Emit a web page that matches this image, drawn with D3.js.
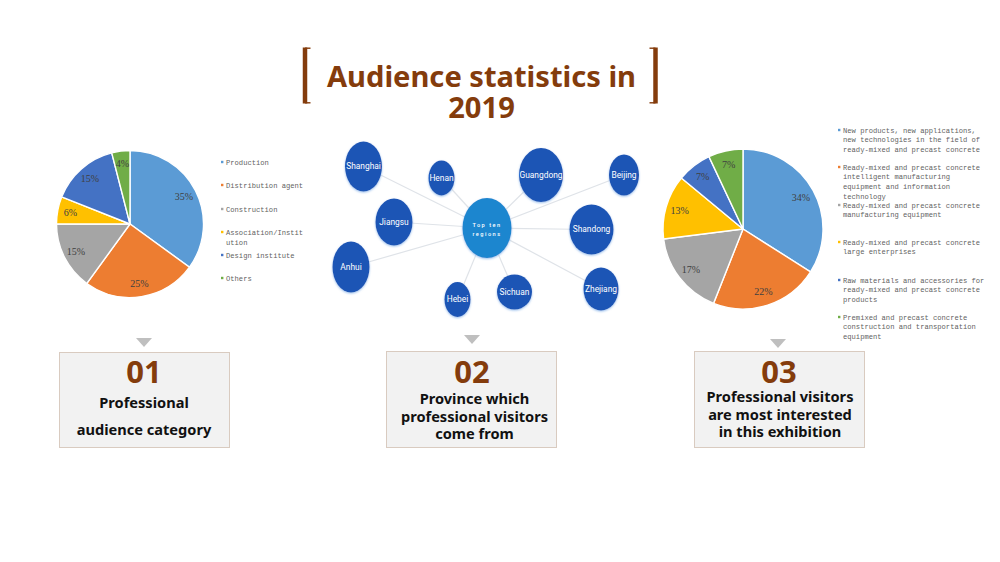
<!DOCTYPE html>
<html>
<head>
<meta charset="utf-8">
<script src="https://cdn.jsdelivr.net/npm/d3@7"></script>
<style>
  html, body { margin: 0; padding: 0; background: #fff; }
  svg { display: block; }
  .legend text { font-family: "Liberation Mono", monospace; font-size: 7.15px; fill: #5f5f5f; }
  .pct { font-family: "Liberation Serif", serif; font-size: 10px; fill: #404040; text-anchor: middle; }
  .heading { font-family: "Noto Sans", "Open Sans", sans-serif; font-weight: 700; text-anchor: middle; }
  .bubble-label { font-family: Roboto, sans-serif; fill: #fff; text-anchor: middle; }
</style>
</head>
<body>
<div id="chart"></div>
<script>

var titleLines = ["Audience statistics in", "2019"];
var sliceColors = ["#5b9bd5", "#ed7d31", "#a5a5a5", "#ffc000", "#4472c4", "#70ad47"];

var audienceLabels = [["Production"], ["Distribution agent"], ["Construction"], ["Association/Instit", "ution"], ["Design institute"], ["Others"]];
var audienceValues = [35, 25, 15, 6, 15, 4];

var interestLabels = [
  ["New products, new applications,", "new technologies in the field of", "ready-mixed and precast concrete"],
  ["Ready-mixed and precast concrete", "intelligent manufacturing", "equipment and information", "technology"],
  ["Ready-mixed and precast concrete", "manufacturing equipment"],
  ["Ready-mixed and precast concrete", "large enterprises"],
  ["Raw materials and accessories for", "ready-mixed and precast concrete", "products"],
  ["Premixed and precast concrete", "construction and transportation", "equipment"]
];
var interestValues = [34, 22, 17, 13, 7, 7];

var hubLabel = ["Top ten", "regions"];
var regions = ["Shanghai", "Henan", "Guangdong", "Beijing", "Shandong", "Zhejiang", "Sichuan", "Hebei", "Anhui", "Jiangsu"];

var panelNumbers = ["01", "02", "03"];
var panelCaptions = [
  ["Professional", "audience category"],
  ["Province which", "professional visitors", "come from"],
  ["Professional visitors", "are most interested", "in this exhibition"]
];

// layout only, the diagram has no values behind it
var W = 1000, H = 562;
var brown = "#843c0c";
var hub = {x: 487, y: 228, rx: 24.5, ry: 30};
var regionLayout = {
  Shanghai:  {x: 363.5, y: 166.5, rx: 18.5, ry: 25},
  Henan:     {x: 441.5, y: 178, rx: 13, ry: 17.5},
  Guangdong: {x: 541, y: 175, rx: 22, ry: 27},
  Beijing:   {x: 624, y: 175, rx: 15, ry: 20.5},
  Shandong:  {x: 591.5, y: 229.5, rx: 22, ry: 25},
  Zhejiang:  {x: 601, y: 289, rx: 17.5, ry: 21.5},
  Sichuan:   {x: 514.5, y: 292, rx: 17.5, ry: 17.5},
  Hebei:     {x: 457.5, y: 299.5, rx: 13, ry: 17.5},
  Anhui:     {x: 351, y: 267, rx: 18.5, ry: 25.5},
  Jiangsu:   {x: 394, y: 222, rx: 18.5, ry: 23.5}
};
var panelLayout = [
  {x: 59, y: 352, w: 170, h: 95, triY: 338, triX: 144, numX: 144, textX: 144, numY: 383, lines: [408, 435]},
  {x: 386, y: 351, w: 170, h: 96, triY: 335, triX: 472, numX: 472, textX: 474.5, numY: 383, lines: [404, 422, 439]},
  {x: 694, y: 351, w: 170, h: 96, triY: 339, triX: 778, numX: 779, textX: 780, numY: 383, lines: [402, 420, 437]}
];

var svg = d3.select("#chart").append("svg").attr("width", W).attr("height", H);

var glow = svg.append("defs").append("filter").attr("id", "glow")
  .attr("x", "-30%").attr("y", "-30%").attr("width", "160%").attr("height", "160%");
glow.append("feDropShadow").attr("dx", 0).attr("dy", 1)
  .attr("stdDeviation", 1.3).attr("flood-color", "#8fb8ea").attr("flood-opacity", 0.9);

function drawTitle() {
  var g = svg.append("g");

  g.selectAll("text")
    .data(titleLines)
    .enter().append("text")
    .attr("class", "heading")
    .attr("x", 481.5)
    .attr("y", function(d, i) { return 86.5 + i * 31.5; })
    .attr("font-size", 29.1)
    .attr("fill", brown)
    .text(function(d) { return d; });

  // square brackets: heavy upright with thin ticks
  [[305, 310.5], [655.5, 649.5]].forEach(function(b) {
    g.append("line")
      .attr("x1", b[0]).attr("x2", b[0])
      .attr("y1", 47.5).attr("y2", 103.5)
      .attr("stroke", brown)
      .attr("stroke-width", 4.5);
    g.selectAll(null)
      .data([48.2, 102.8])
      .enter().append("line")
      .attr("x1", b[0]).attr("x2", b[1])
      .attr("y1", function(d) { return d; })
      .attr("y2", function(d) { return d; })
      .attr("stroke", brown)
      .attr("stroke-width", 1.4);
  });
}

function drawPie(cx, cy, radius, values) {
  var g = svg.append("g").attr("transform", "translate(" + cx + "," + cy + ")");

  var pie = d3.pie().sort(null)(values);
  var arc = d3.arc().innerRadius(0).outerRadius(radius);
  var labelArc = d3.arc().innerRadius(radius * 0.825).outerRadius(radius * 0.825);

  g.selectAll("path")
    .data(pie)
    .enter().append("path")
    .attr("d", arc)
    .attr("fill", function(d, i) { return sliceColors[i]; })
    .attr("stroke", "#fff")
    .attr("stroke-width", 1.4);

  g.selectAll("text")
    .data(pie)
    .enter().append("text")
    .attr("class", "pct")
    .attr("transform", function(d) { return "translate(" + labelArc.centroid(d) + ")"; })
    .attr("dy", "0.35em")
    .text(function(d) { return d.data + "%"; });
}

function drawLegend(labels, x, rows, lineH) {
  var g = svg.append("g").attr("class", "legend");

  labels.forEach(function(lines, i) {
    g.append("rect")
      .attr("x", x - 5)
      .attr("y", rows[i] - 1.2)
      .attr("width", 2.4)
      .attr("height", 2.4)
      .attr("fill", sliceColors[i]);

    g.selectAll(null)
      .data(lines)
      .enter().append("text")
      .attr("x", x)
      .attr("y", function(d, j) { return rows[i] + 2.5 + j * lineH; })
      .text(function(d) { return d; });
  });
}

function drawBubbles() {
  var g = svg.append("g");

  g.selectAll("line")
    .data(regions)
    .enter().append("line")
    .attr("x1", hub.x)
    .attr("y1", hub.y)
    .attr("x2", function(d) { return regionLayout[d].x; })
    .attr("y2", function(d) { return regionLayout[d].y; })
    .attr("stroke", "#dfe3e8")
    .attr("stroke-width", 1.2);

  g.selectAll("ellipse.region")
    .data(regions)
    .enter().append("ellipse")
    .attr("class", "region")
    .attr("cx", function(d) { return regionLayout[d].x; })
    .attr("cy", function(d) { return regionLayout[d].y; })
    .attr("rx", function(d) { return regionLayout[d].rx; })
    .attr("ry", function(d) { return regionLayout[d].ry; })
    .attr("fill", "#1b55b5")
    .attr("filter", "url(#glow)");

  g.append("ellipse")
    .attr("cx", hub.x).attr("cy", hub.y)
    .attr("rx", hub.rx).attr("ry", hub.ry)
    .attr("fill", "#1c86cf")
    .attr("filter", "url(#glow)");

  g.selectAll("text.region")
    .data(regions)
    .enter().append("text")
    .attr("class", "bubble-label region")
    .attr("x", function(d) { return regionLayout[d].x; })
    .attr("y", function(d) { return regionLayout[d].y; })
    .attr("dy", "0.3em")
    .attr("font-size", 8.4)
    .text(function(d) { return d; });

  g.selectAll("text.hub")
    .data(hubLabel)
    .enter().append("text")
    .attr("class", "bubble-label hub")
    .attr("x", hub.x)
    .attr("y", function(d, i) { return hub.y - 1 + i * 9; })
    .attr("font-size", 5.6)
    .attr("font-weight", 500)
    .attr("letter-spacing", 1.5)
    .text(function(d) { return d; });
}

function drawPanels() {
  panelLayout.forEach(function(p, i) {
    var g = svg.append("g");

    g.append("path")
      .attr("d", d3.line()([[p.triX - 8, p.triY], [p.triX + 8, p.triY], [p.triX, p.triY + 9]]) + "Z")
      .attr("fill", "#bfbfbf");

    g.append("rect")
      .attr("x", p.x + 0.5).attr("y", p.y + 0.5)
      .attr("width", p.w).attr("height", p.h)
      .attr("fill", "#f2f2f2")
      .attr("stroke", "#d9cbc0")
      .attr("stroke-width", 1);

    g.append("text")
      .attr("class", "heading")
      .attr("x", p.numX)
      .attr("y", p.numY)
      .attr("font-size", 31)
      .attr("fill", brown)
      .text(panelNumbers[i]);

    g.selectAll("text.caption")
      .data(panelCaptions[i])
      .enter().append("text")
      .attr("class", "heading caption")
      .attr("x", p.textX)
      .attr("y", function(d, j) { return p.lines[j]; })
      .attr("font-size", 14.6)
      .attr("fill", "#111")
      .text(function(d) { return d; });
  });
}

drawTitle();
drawPie(130, 224, 73.5, audienceValues);
drawLegend(audienceLabels, 226, [162, 185, 209, 232, 255, 278], 10);
drawBubbles();
drawPie(743, 229, 80, interestValues);
drawLegend(interestLabels, 843, [130, 167, 205, 242, 280, 317], 9.7);
drawPanels();

</script>
</body>
</html>
